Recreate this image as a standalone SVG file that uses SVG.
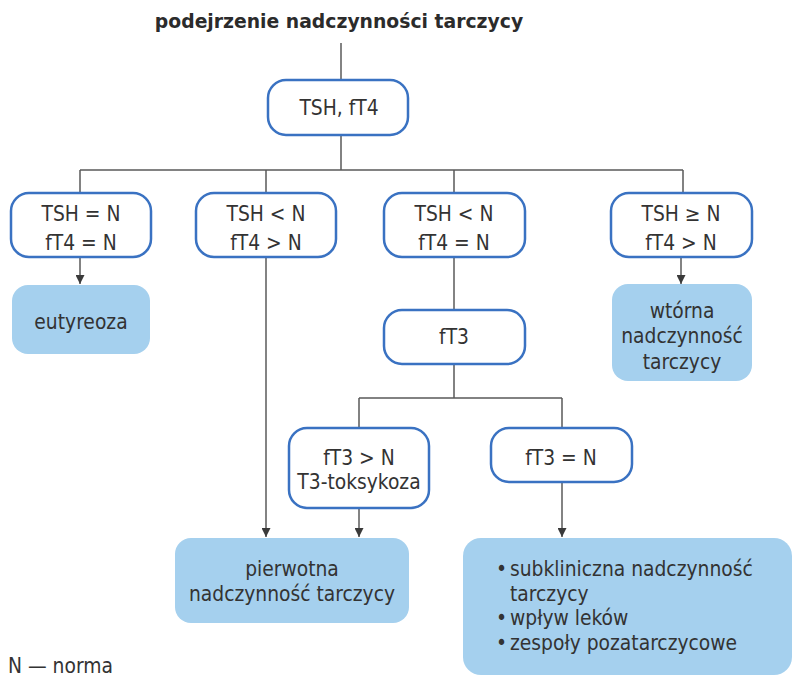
<svg xmlns="http://www.w3.org/2000/svg" width="796" height="678" viewBox="0 0 796 678">
<defs>
<style>
text{font-family:"DejaVu Sans Condensed","DejaVu Sans",sans-serif;font-stretch:condensed;font-size:20.8px;fill:#333;text-anchor:middle}
.title{font-family:"DejaVu Sans","DejaVu Sans Condensed",sans-serif;font-stretch:normal;font-weight:bold;font-size:18.8px;fill:#2b2b2b}
.q{fill:#fff;stroke:#3a72c2;stroke-width:2.5}
.r{fill:#a5d0ee;stroke:none}
.c{fill:none;stroke:#5a5a5a;stroke-width:1.5}
.l{text-anchor:start}
</style>
<marker id="ah" viewBox="0 0 10 10" refX="10" refY="5" markerWidth="9" markerHeight="9" markerUnits="userSpaceOnUse" orient="auto">
<path d="M0,0 L10,5 L0,10 Z" fill="#3a3a3a"/>
</marker>
</defs>
<rect width="796" height="678" fill="#fff"/>
<text class="title" x="339" y="28">podejrzenie nadczynności tarczycy</text>
<g id="connectors">
<path class="c" d="M341,43 V80"/>
<path class="c" d="M341,135 V170 M80,170 H683 M80,170 V193 M266,170 V193 M454,170 V193 M683,170 V193"/>
<path class="c" d="M80,257 V284" marker-end="url(#ah)"/>
<path class="c" d="M681,257 V284" marker-end="url(#ah)"/>
<path class="c" d="M266,257 V537" marker-end="url(#ah)"/>
<path class="c" d="M454,257 V310"/>
<path class="c" d="M454,364 V398 M359,398 H562 M359,398 V428 M562,398 V428"/>
<path class="c" d="M359,508 V537" marker-end="url(#ah)"/>
<path class="c" d="M562,482 V537" marker-end="url(#ah)"/>
</g>
<g id="n-tsh-ft4"><rect class="q" x="268" y="80" width="140" height="55" rx="18"/><text x="339" y="115">TSH, fT4</text></g>
<g id="n-a"><rect class="q" x="11" y="193" width="140" height="64" rx="18"/><text x="81" y="221">TSH = N</text><text x="81" y="250">fT4 = N</text></g>
<g id="n-b"><rect class="q" x="196" y="193" width="140" height="64" rx="18"/><text x="266" y="221">TSH &lt; N</text><text x="266" y="250">fT4 &gt; N</text></g>
<g id="n-c"><rect class="q" x="384" y="193" width="141" height="64" rx="18"/><text x="454" y="221">TSH &lt; N</text><text x="454" y="250">fT4 = N</text></g>
<g id="n-d"><rect class="q" x="611" y="193" width="141" height="64" rx="18"/><text x="681" y="221">TSH ≥ N</text><text x="681" y="250">fT4 &gt; N</text></g>
<g id="n-eutyreoza"><rect class="r" x="12" y="285" width="138" height="69" rx="16"/><text x="81" y="329">eutyreoza</text></g>
<g id="n-wtorna"><rect class="r" x="612" y="284" width="140" height="97" rx="16"/><text x="682" y="318">wtórna</text><text x="682" y="343">nadczynność</text><text x="682" y="369">tarczycy</text></g>
<g id="n-ft3"><rect class="q" x="384" y="310" width="141" height="54" rx="18"/><text x="454" y="344">fT3</text></g>
<g id="n-ft3-high"><rect class="q" x="289" y="428" width="140" height="80" rx="18"/><text x="359" y="465">fT3 &gt; N</text><text x="359" y="489">T3-toksykoza</text></g>
<g id="n-ft3-norm"><rect class="q" x="491" y="428" width="141" height="54" rx="18"/><text x="561" y="465">fT3 = N</text></g>
<g id="n-pierwotna"><rect class="r" x="175" y="538" width="234" height="85" rx="16"/><text x="292" y="576">pierwotna</text><text x="292" y="601">nadczynność tarczycy</text></g>
<g id="n-inne"><rect class="r" x="463" y="538" width="329" height="137" rx="18"/>
<text class="l" x="496" y="576">•</text><text class="l" x="510" y="576">subkliniczna nadczynność</text>
<text class="l" x="510" y="601">tarczycy</text>
<text class="l" x="496" y="625">•</text><text class="l" x="510" y="625">wpływ leków</text>
<text class="l" x="496" y="650">•</text><text class="l" x="510" y="650">zespoły pozatarczycowe</text>
</g>
<text class="l" x="8" y="673">N — norma</text>
</svg>
